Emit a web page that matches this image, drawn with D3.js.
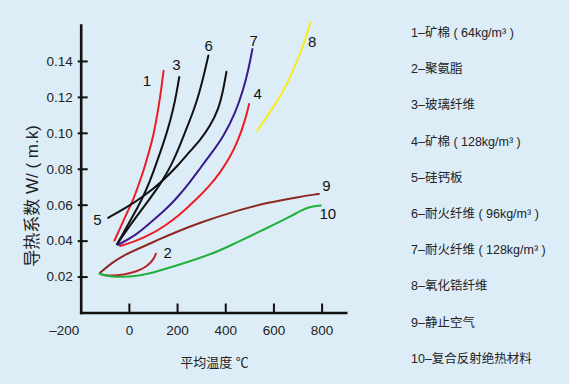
<!DOCTYPE html>
<html>
<head>
<meta charset="utf-8">
<script src="https://cdn.jsdelivr.net/npm/d3@7"></script>
<style>
  html, body { margin: 0; padding: 0; background: #ddedf8; }
  svg { display: block; font-family: "Liberation Sans", Arial, "Noto Sans CJK SC", sans-serif; }
</style>
</head>
<body>
<svg id="chart" width="569" height="384"></svg>
<script>
// ---- data (temperature °C, conductivity W/(m.k)) ----
const x1 = [-60, -36, -8, 19, 39, 61, 76, 102, 123, 134, 144];
const y1 = [0.040, 0.047, 0.0555, 0.063, 0.0705, 0.079, 0.086, 0.098, 0.114, 0.124, 0.1345];
const x2 = [-112, -77, -22, 33, 75, 102, 112];
const y2 = [0.021, 0.0204, 0.021, 0.0228, 0.0256, 0.0293, 0.0327];
const x3 = [-49, -3, 39, 72, 101, 130, 159, 184, 199, 209];
const y3 = [0.038, 0.049, 0.059, 0.068, 0.078, 0.089, 0.1005, 0.113, 0.123, 0.131];
const x4 = [-37, 25, 88, 150, 212, 274, 337, 378, 420, 453, 482, 499];
const y4 = [0.037, 0.0395, 0.0432, 0.0482, 0.0545, 0.0621, 0.0708, 0.0777, 0.0864, 0.0957, 0.1066, 0.116];
const x5 = [-86, -15, 60, 139, 205, 255, 297, 338, 372, 392, 405];
const y5 = [0.0527, 0.058, 0.0645, 0.073, 0.082, 0.090, 0.096, 0.104, 0.113, 0.124, 0.134];
const x6 = [-49, 18, 80, 139, 180, 209, 238, 268, 292, 313, 330];
const y6 = [0.038, 0.051, 0.062, 0.073, 0.083, 0.092, 0.102, 0.112, 0.122, 0.133, 0.143];
const x7 = [-45, 26, 89, 151, 201, 255, 297, 338, 392, 442, 475, 496, 513];
const y7 = [0.0377, 0.0427, 0.050, 0.057, 0.064, 0.0727, 0.0805, 0.0878, 0.0977, 0.111, 0.124, 0.135, 0.1467];
const x8 = [532, 587, 641, 683, 721, 754];
const y8 = [0.101, 0.1117, 0.1228, 0.135, 0.1473, 0.1615];
const x9 = [-119, -70, -22, 35, 117, 193, 297, 435, 574, 713, 789];
const y9 = [0.0222, 0.0277, 0.0318, 0.0352, 0.0402, 0.0446, 0.0501, 0.0562, 0.0612, 0.0645, 0.066];
const x10 = [-122, -78, -22, 47, 117, 255, 380, 435, 574, 671, 713, 754, 796];
const y10 = [0.0215, 0.020, 0.0197, 0.0204, 0.0228, 0.0284, 0.0345, 0.0382, 0.047, 0.0534, 0.0567, 0.059, 0.0595];

const curveNames = ["1", "2", "3", "4", "5", "6", "7", "8", "9", "10"];
const curveColors = ["#ec1c24", "#b8242e", "#111111", "#ec1c24", "#111111", "#111111", "#3b1a8e", "#f5ee1c", "#8c2a22", "#22b03c"];

// curve number labels (placed in data units)
const labelText = ["1", "3", "6", "7", "4", "8", "5", "2", "9", "10"];
const labelX = [75, 197, 331, 518, 535, 761, -131, 161, 820, 826];
const labelY = [0.1291, 0.1378, 0.1484, 0.1511, 0.1220, 0.1508, 0.0520, 0.0334, 0.0707, 0.0553];

const xTicks = [-200, 0, 200, 400, 600, 800];
const yTicks = [0.02, 0.04, 0.06, 0.08, 0.10, 0.12, 0.14];

const legendLabels = [
  "1–矿棉 ( 64kg/m³ )",
  "2–聚氨脂",
  "3–玻璃纤维",
  "4–矿棉 ( 128kg/m³ )",
  "5–硅钙板",
  "6–耐火纤维 ( 96kg/m³ )",
  "7–耐火纤维 ( 128kg/m³ )",
  "8–氧化锆纤维",
  "9–静止空气",
  "10–复合反射绝热材料"
];

const yTitle = "导热系数 W/ ( m.k)";
const xTitle = "平均温度 ℃";

// ---- drawing ----
const svg = d3.select("#chart");
svg.append("rect").attr("width", 569).attr("height", 384).attr("fill", "#ddedf8");

const x = d3.scaleLinear().domain([-200, 900]).range([80.7, 345.7]);
const y = d3.scaleLinear().domain([0, 0.16]).range([312.5, 25]);

const xs = [x1, x2, x3, x4, x5, x6, x7, x8, x9, x10];
const ys = [y1, y2, y3, y4, y5, y6, y7, y8, y9, y10];
const series = xs.map((xv, i) => ({
  name: curveNames[i],
  color: curveColors[i],
  points: xv.map((v, j) => [v, ys[i][j]])
}));

const line = d3.line()
  .x(d => x(d[0]))
  .y(d => y(d[1]))
  .curve(d3.curveBasis);

svg.append("g").selectAll("path")
  .data(series)
  .join("path")
  .attr("d", d => line(d.points))
  .attr("fill", "none")
  .attr("stroke", d => d.color)
  .attr("stroke-width", 2)
  .attr("stroke-linecap", "round");

// axes
const fmtX = d => (d < 0 ? "–" + Math.abs(d) : String(d));
const gx = svg.append("g")
  .attr("transform", `translate(0,${y(0)})`)
  .call(d3.axisBottom(x).tickValues(xTicks).tickSizeInner(-9).tickSizeOuter(0).tickPadding(13).tickFormat(fmtX));
const gy = svg.append("g")
  .attr("transform", `translate(${x(-200)},0)`)
  .call(d3.axisLeft(y).tickValues(yTicks).tickSizeInner(-7).tickSizeOuter(0).tickPadding(8).tickFormat(d3.format(".2f")));

[gx, gy].forEach(g => {
  g.attr("font-family", null).attr("font-size", null);
  g.select(".domain").attr("stroke", "#111").attr("stroke-width", 2.6).attr("stroke-linecap", "square");
  g.selectAll(".tick line").attr("stroke", "#111").attr("stroke-width", 2);
  g.selectAll(".tick text").attr("fill", "#222").attr("font-size", "13.5px");
});
gy.selectAll(".tick line").attr("x1", -3);
gx.selectAll(".tick").filter(d => d === -200).select("line").remove();
gx.selectAll(".tick").filter(d => d === -200).select("text").attr("text-anchor", "end").attr("x", -2);

// curve number labels
svg.append("g").selectAll("text")
  .data(labelText)
  .join("text")
  .attr("x", (d, i) => x(labelX[i]))
  .attr("y", (d, i) => y(labelY[i]))
  .attr("text-anchor", "middle")
  .attr("dominant-baseline", "central")
  .attr("font-size", "15px")
  .attr("fill", "#111")
  .text(d => d);

// axis titles
svg.append("text")
  .attr("transform", "translate(32,196) rotate(-90)")
  .attr("text-anchor", "middle")
  .attr("dominant-baseline", "central")
  .attr("font-size", "17px")
  .attr("fill", "#222")
  .text(yTitle);
svg.append("text")
  .attr("x", 214.5).attr("y", 362)
  .attr("text-anchor", "middle")
  .attr("dominant-baseline", "central")
  .attr("font-size", "13px")
  .attr("fill", "#222")
  .text(xTitle);

// legend
svg.append("g").selectAll("text")
  .data(legendLabels)
  .join("text")
  .attr("x", 411)
  .attr("y", (d, i) => 33 + i * 36.2)
  .attr("dominant-baseline", "central")
  .attr("font-size", "12.5px")
  .attr("fill", "#222")
  .text(d => d);
</script>
</body>
</html>
